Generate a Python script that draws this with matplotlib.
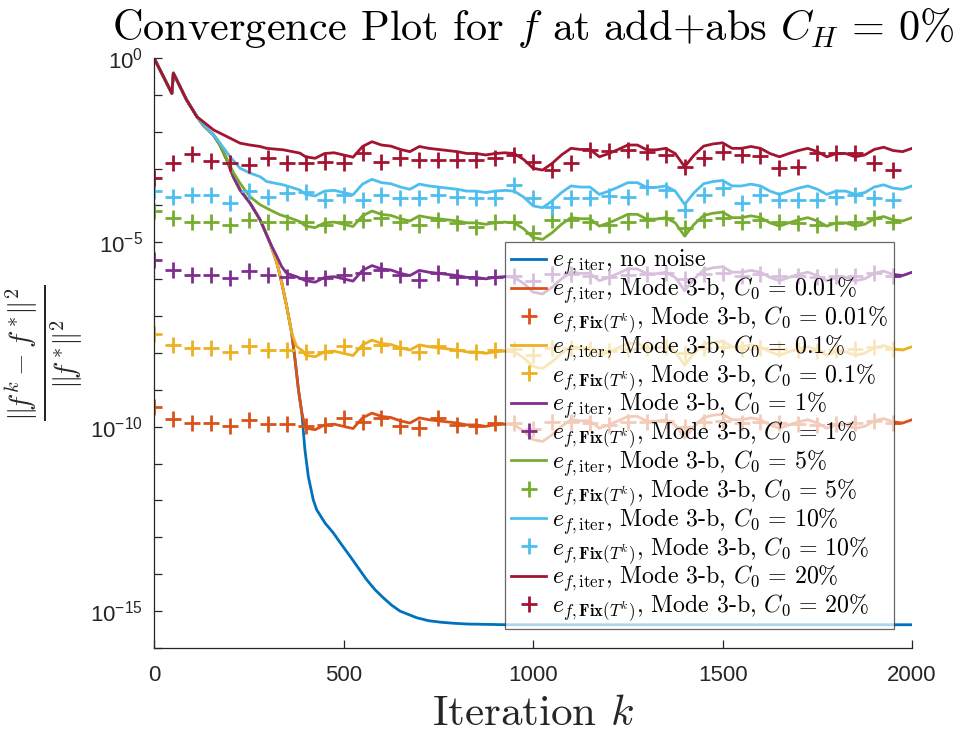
import numpy as np
import matplotlib.pyplot as plt
from matplotlib.font_manager import FontProperties
from matplotlib.ticker import FixedLocator, FuncFormatter, NullLocator

plt.rcParams['mathtext.fontset'] = 'cm'

# log10 of the relative error, noise-free run
k_clean = [0, 47, 51, 86, 113, 130, 157, 174, 192, 209, 227, 253, 280, 306,
           324, 337, 350, 363, 372, 381, 390, 398, 407, 420, 429, 451, 473,
           495, 517, 539, 561, 583, 605, 627, 649, 671, 693, 724, 755, 790,
           825, 930, 2000]
log_clean = [0, -0.96, -0.41, -1.14, -1.59, -1.82, -2.09, -2.36, -2.76, -3.22,
             -3.58, -3.93, -4.39, -5.01, -5.55, -6.10, -6.74, -7.45, -8.18,
             -9.00, -9.63, -10.62, -11.35, -11.98, -12.25, -12.61, -12.88,
             -13.20, -13.51, -13.83, -14.15, -14.42, -14.64, -14.84, -15.00,
             -15.09, -15.18, -15.26, -15.30, -15.33, -15.35, -15.37, -15.37]

# shared start of every noisy run
k_start = [0, 47, 51, 86, 113]
log_start = [0, -0.96, -0.41, -1.14, -1.59]

# transient of each noisy run until it reaches its noise floor
k_head_001 = [130, 157, 174, 192, 209, 227, 253, 280, 306, 324, 337, 350, 363, 372, 381, 390]
log_head_001 = [-1.82, -2.09, -2.36, -2.76, -3.22, -3.58, -3.93, -4.39, -5.01, -5.55, -6.10, -6.74, -7.45, -8.18, -9.00, -9.63]
k_head_01 = [130, 157, 174, 192, 209, 227, 253, 280, 306, 324, 337, 350, 363, 376, 394]
log_head_01 = [-1.82, -2.09, -2.36, -2.76, -3.22, -3.58, -3.93, -4.39, -5.01, -5.55, -6.10, -6.74, -7.45, -7.82, -7.96]
k_head_1 = [130, 157, 174, 192, 209, 227, 253, 280, 306, 324, 337, 350, 376]
log_head_1 = [-1.82, -2.09, -2.36, -2.76, -3.22, -3.58, -3.93, -4.39, -5.01, -5.38, -5.66, -5.84, -5.93]
k_head_5 = [130, 157, 174, 192, 209, 227, 253, 280, 306, 332, 359, 385]
log_head_5 = [-1.82, -2.09, -2.36, -2.74, -3.10, -3.40, -3.76, -3.98, -4.12, -4.25, -4.34, -4.44]
k_head_10 = [130, 165, 200, 227, 253, 280, 297, 341, 385]
log_head_10 = [-1.80, -2.18, -2.67, -2.99, -3.12, -3.22, -3.35, -3.44, -3.58]
k_head_20 = [130, 157, 192, 227, 253, 280, 297, 341, 385]
log_head_20 = [-1.73, -1.95, -2.13, -2.31, -2.36, -2.40, -2.45, -2.49, -2.58]

# noise floor: mean level per run plus the common fluctuation (k = 400..2000)
k_tail = np.arange(400, 2001, 25)
wiggle = [-0.14, -0.18, -0.05, -0.03, -0.09, -0.15, 0.14, 0.27, 0.18, 0.15,
          0.06, 0.00, 0.14, 0.09, 0.06, 0.03, 0.00, -0.05, -0.05, -0.09,
          -0.05, -0.03, -0.05, -0.21, -0.45, -0.50, -0.32, -0.09, 0.09, 0.06,
          0.06, -0.14, -0.05, 0.06, 0.18, 0.18, 0.05, 0.05, 0.09, -0.05,
          -0.41, -0.09, 0.15, 0.21, 0.24, 0.09, 0.09, 0.14, 0.09, -0.05,
          -0.14, -0.05, 0.03, 0.09, 0.00, -0.14, -0.05, -0.05, -0.14, -0.09,
          0.06, 0.12, 0.03, 0.00, 0.09]
floor_001, floor_01, floor_1, floor_5, floor_10, floor_20 = -9.90, -7.92, -5.90, -4.42, -3.56, -2.54

# e_{f,Fix(T^k)} every 50 iterations
k_fix = np.arange(0, 2000, 50)
fix_001 = [-9.47, -9.78, -9.90, -9.90, -9.97, -9.83, -9.92, -9.92, -9.99, -9.95,
           -9.76, -9.86, -9.76, -9.99, -10.04, -9.76, -9.95, -9.99, -9.90, -9.90,
           -10.05, -9.86, -9.86, -9.90, -9.95, -9.88, -9.86, -9.84, -10.00, -9.86,
           -9.84, -9.90, -9.86, -9.90, -9.92, -9.95, -9.92, -9.90, -9.84, -9.90]
fix_01 = [-7.48, -7.78, -7.87, -7.87, -7.96, -7.82, -7.91, -7.91, -7.96, -7.96,
          -7.82, -7.87, -7.78, -7.87, -7.96, -7.82, -7.91, -7.96, -7.93, -7.90,
          -8.05, -7.86, -7.86, -7.90, -7.95, -7.88, -7.86, -7.84, -8.00, -7.86,
          -7.84, -7.90, -7.86, -7.90, -7.92, -7.95, -7.92, -7.90, -7.84, -7.90]
fix_1 = [-5.47, -5.75, -5.88, -5.88, -5.97, -5.79, -5.88, -5.93, -5.97, -5.97,
         -5.88, -5.84, -5.75, -5.88, -6.02, -5.84, -5.93, -5.97, -5.93, -5.90,
         -6.05, -5.86, -5.86, -5.90, -5.95, -5.88, -5.86, -5.84, -6.00, -5.86,
         -5.84, -5.90, -5.86, -5.90, -5.92, -5.95, -5.92, -5.90, -5.84, -5.90]
fix_5 = [-4.16, -4.35, -4.44, -4.44, -4.53, -4.39, -4.44, -4.44, -4.44, -4.53,
         -4.44, -4.39, -4.35, -4.44, -4.53, -4.39, -4.48, -4.57, -4.44, -4.44,
         -4.75, -4.39, -4.39, -4.44, -4.53, -4.44, -4.39, -4.35, -4.62, -4.39,
         -4.35, -4.44, -4.39, -4.44, -4.48, -4.53, -4.48, -4.44, -4.35, -4.44]
fix_10 = [-3.62, -3.76, -3.71, -3.71, -3.94, -3.62, -3.76, -3.67, -3.64, -3.85,
          -3.71, -3.85, -3.71, -3.80, -3.80, -3.71, -3.76, -3.80, -3.80, -3.44,
          -3.80, -4.03, -3.80, -3.80, -3.74, -3.76, -3.49, -3.58, -4.12, -3.71,
          -3.53, -3.94, -3.71, -3.85, -3.85, -3.85, -3.76, -3.71, -3.80, -3.85]
fix_20 = [-3.26, -2.86, -2.60, -2.78, -2.86, -2.90, -2.72, -2.86, -2.85, -2.81,
          -2.85, -2.58, -2.81, -2.72, -2.76, -2.76, -2.76, -2.76, -2.72, -2.63,
          -2.81, -3.03, -2.85, -2.49, -2.52, -2.49, -2.54, -2.63, -2.95, -2.72,
          -2.54, -2.63, -2.67, -2.99, -2.95, -2.58, -2.58, -2.58, -2.85, -3.03]

noise_labels = ['0.01', '0.1', '1', '5', '10', '20']
colors = ['#D95319', '#EDB120', '#7E2F8E', '#77AC30', '#4DBEEE', '#A2142F']
heads = [(k_head_001, log_head_001), (k_head_01, log_head_01), (k_head_1, log_head_1),
         (k_head_5, log_head_5), (k_head_10, log_head_10), (k_head_20, log_head_20)]
floors = [floor_001, floor_01, floor_1, floor_5, floor_10, floor_20]
fixes = [fix_001, fix_01, fix_1, fix_5, fix_10, fix_20]

fig = plt.figure(figsize=(9.61, 7.35), dpi=100)
ax = fig.add_axes([0.1603, 0.1184, 0.7888, 0.8027])

ax.semilogy(k_clean, 10.0 ** np.array(log_clean), color='#0072BD', lw=2,
            label=r'$e_{f,\mathrm{iter}}$, no noise')

for lab, c, (kh, lh), fl, fx in zip(noise_labels, colors, heads, floors, fixes):
    k = np.concatenate([k_start, kh, k_tail])
    e = np.concatenate([log_start, lh, fl + np.array(wiggle)])
    ax.semilogy(k, 10.0 ** e, color=c, lw=2,
                label=r'$e_{f,\mathrm{iter}}$, Mode 3-b, $C_0\,=\,%s\%%$' % lab)
    ax.semilogy(k_fix, 10.0 ** np.array(fx), ls='none', marker='+', ms=11,
                mew=2, color=c,
                label=r'$e_{f,\mathbf{Fix}(T^k)}$, Mode 3-b, $C_0\,=\,%s\%%$' % lab)

ax.set_xlim(0, 2000)
ax.set_ylim(1e-16, 1e0)
ax.set_xticks([0, 500, 1000, 1500, 2000])
ax.yaxis.set_major_locator(FixedLocator([10.0 ** p for p in range(-16, 1)]))
ax.yaxis.set_minor_locator(NullLocator())


def decade_label(v, pos):
    p = int(round(np.log10(v)))
    return r'$\mathregular{10^{%d}}$' % p if p % 5 == 0 else ''


ax.yaxis.set_major_formatter(FuncFormatter(decade_label))

for side in ['top', 'right']:
    ax.spines[side].set_visible(False)
for side in ['left', 'bottom']:
    ax.spines[side].set_color('#262626')
    ax.spines[side].set_linewidth(0.9)
ax.tick_params(direction='in', length=6, width=0.9, colors='#262626',
               labelsize=16, labelfontfamily='Liberation Sans')
ax.tick_params(axis='x', pad=12)
ax.tick_params(axis='y', pad=8)

ax.set_title(r'Convergence Plot for $f$ at add+abs $C_H\,=\,0\%$',
             fontfamily='cmr10', math_fontfamily='cm', fontsize=30.5, pad=13)
ax.set_xlabel(r'Iteration $k$', fontfamily='cmr10', math_fontfamily='cm',
              fontsize=31, labelpad=7, color='#262626')
ax.set_ylabel(r'$\frac{\|\!f^k - f^*\!\|^2}{\|\!f^*\!\|^2}$',
              fontsize=30, labelpad=4, color='#262626')

leg = ax.legend(loc='lower right', bbox_to_anchor=(0.976, 0.032),
                prop=FontProperties(family='cmr10', size=17.2, math_fontfamily='cm'),
                fancybox=False, framealpha=0.7, edgecolor='#262626',
                borderaxespad=0, borderpad=0.25, handlelength=1.45,
                handletextpad=0.25, labelspacing=-0.08)
leg.get_frame().set_linewidth(0.9)

fig.savefig('out.png', dpi=100)
